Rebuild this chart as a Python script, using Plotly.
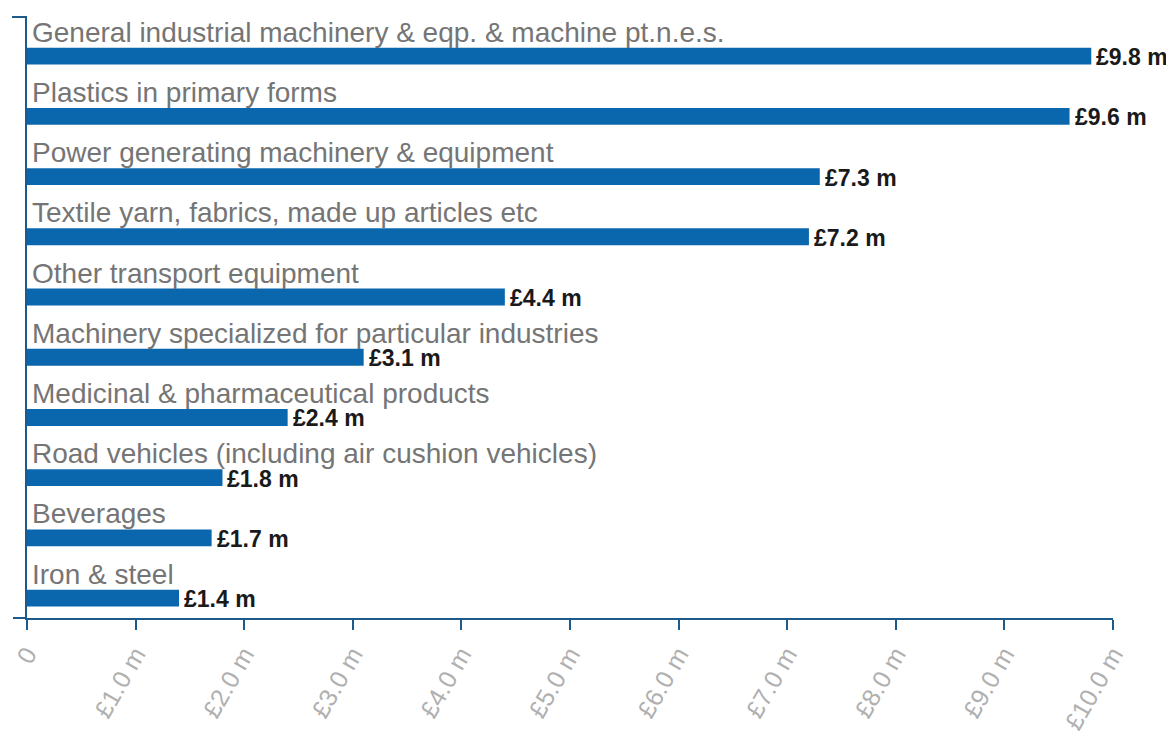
import plotly.graph_objects as go

categories = [
    "General industrial machinery & eqp. & machine pt.n.e.s.",
    "Plastics in primary forms",
    "Power generating machinery & equipment",
    "Textile yarn, fabrics, made up articles etc",
    "Other transport equipment",
    "Machinery specialized for particular industries",
    "Medicinal & pharmaceutical products",
    "Road vehicles (including air cushion vehicles)",
    "Beverages",
    "Iron & steel",
]
values = [9.8, 9.6, 7.3, 7.2, 4.4, 3.1, 2.4, 1.8, 1.7, 1.4]
tick_vals = [0, 1, 2, 3, 4, 5, 6, 7, 8, 9, 10]
tick_text = ["0", "£1.0 m", "£2.0 m", "£3.0 m", "£4.0 m", "£5.0 m",
             "£6.0 m", "£7.0 m", "£8.0 m", "£9.0 m", "£10.0 m"]

BAR = "#0a67ad"
AXIS = "#1c5a8c"
FONT = "Liberation Sans, Arial, sans-serif"

fig = go.Figure()
fig.add_trace(go.Bar(
    x=values, y=categories, orientation="h",
    marker=dict(color=BAR, line=dict(width=0)),
    width=0.28,
    hoverinfo="skip",
))

for c, v in zip(categories, values):
    fig.add_annotation(
        x=0, y=c, xref="x", yref="y", text=c, showarrow=False,
        xanchor="left", yanchor="middle", xshift=3, yshift=24,
        font=dict(family=FONT, size=28, color="#757575"),
    )
    fig.add_annotation(
        x=v, y=c, xref="x", yref="y", text=f"£{v:.1f} m", showarrow=False,
        xanchor="left", yanchor="middle", xshift=3, yshift=-1,
        font=dict(family=FONT, size=23, color="#1a1a1a", weight="bold"),
    )

# axis extensions (small ticks at the corner/top)
fig.add_shape(type="line", xref="paper", yref="paper", x0=-0.0138, x1=0, y0=1, y1=1,
              line=dict(color=AXIS, width=2))
fig.add_shape(type="line", xref="paper", yref="paper", x0=-0.0129, x1=0, y0=0, y1=0,
              line=dict(color=AXIS, width=2))

fig.update_layout(
    width=1174, height=731,
    margin=dict(l=19, r=69, t=9, b=121),
    plot_bgcolor="white", paper_bgcolor="white",
    showlegend=False,
    xaxis=dict(
        range=[0, 10], tickvals=tick_vals, ticktext=tick_text, automargin=False,
        tickangle=-60, ticks="outside", ticklen=10, tickwidth=2, tickcolor=AXIS,
        showline=True, linecolor=AXIS, linewidth=2, showgrid=False, zeroline=False,
        tickfont=dict(family=FONT, size=25, color="#b0b0b0"),
    ),
    yaxis=dict(
        categoryorder="array", categoryarray=categories, automargin=False,
        range=[9.33, -0.65], showticklabels=False, ticks="",
        showline=True, linecolor=AXIS, linewidth=2, showgrid=False, zeroline=False,
    ),
)

fig.write_html("out.html")
